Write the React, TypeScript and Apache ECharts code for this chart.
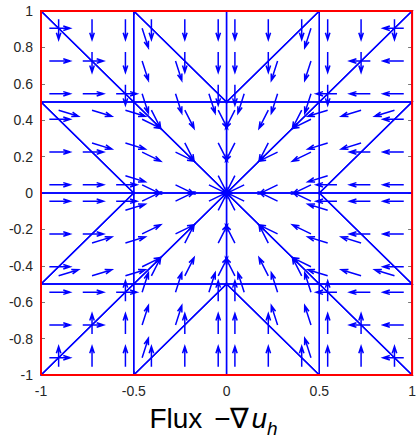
import React, { useEffect, useRef } from "react";
import * as echarts from "echarts";

// Mesh nodes (grid of vertices) and the discrete solution u_h at each node
const nodeX = [-1, -0.5, 0, 0.5, 1];
const nodeY = [-1, -0.5, 0, 0.5, 1];
// rows follow nodeY (bottom -> top), columns follow nodeX
const uhValues = [
  [0, 0, 0, 0, 0],
  [0, -0.177, -0.233, -0.177, 0],
  [0, -0.233, -0.345, -0.233, 0],
  [0, -0.177, -0.233, -0.177, 0],
  [0, 0, 0, 0, 0],
];
// sample offsets along the two legs of each triangle (fraction of leg)
const latticeOffsets = [0.09, 0.45, 0.81];
const arrowLength = 0.112; // quiver arrows drawn with normalised length
const xTicks = [-1, -0.5, 0, 0.5, 1];
const yTicks = [-1, -0.8, -0.6, -0.4, -0.2, 0, 0.2, 0.4, 0.6, 0.8, 1];
const boundary = [
  [-1, -1],
  [1, -1],
  [1, 1],
  [-1, 1],
  [-1, -1],
];

type Pt = [number, number];
type Node = { p: Pt; u: number };

function buildTriangles() {
  const tris: { R: Node; A: Node; B: Node }[] = [];
  const node = (i: number, j: number): Node => ({ p: [nodeX[i], nodeY[j]], u: uhValues[j][i] });
  for (let i = 0; i < nodeX.length - 1; i++) {
    for (let j = 0; j < nodeY.length - 1; j++) {
      const corners = [node(i, j), node(i + 1, j), node(i + 1, j + 1), node(i, j + 1)];
      let oi = 0;
      let best = -1;
      corners.forEach((c, k) => {
        const d = c.p[0] * c.p[0] + c.p[1] * c.p[1];
        if (d > best + 1e-9) {
          best = d;
          oi = k;
        }
      });
      const O = corners[oi];
      const I = corners[(oi + 2) % 4];
      const P = corners[(oi + 1) % 4];
      const Q = corners[(oi + 3) % 4];
      tris.push({ R: P, A: O, B: I });
      tris.push({ R: Q, A: O, B: I });
    }
  }
  return tris;
}

function App() {
  const ref = useRef<HTMLDivElement>(null);
  useEffect(() => {
    if (!ref.current) return;
    const chart = echarts.init(ref.current, undefined, { renderer: "svg" });
    const tris = buildTriangles();

    const meshLines: { coords: Pt[] }[] = [];
    const arrows: { coords: Pt[] }[] = [];
    const alpha = 0.33;
    const beta = 0.33;
    tris.forEach(({ R, A, B }) => {
      meshLines.push({ coords: [R.p, A.p, B.p, R.p] });
      const e1: Pt = [A.p[0] - R.p[0], A.p[1] - R.p[1]];
      const e2: Pt = [B.p[0] - R.p[0], B.p[1] - R.p[1]];
      const d1 = A.u - R.u;
      const d2 = B.u - R.u;
      const det = e1[0] * e2[1] - e1[1] * e2[0];
      const gx = (d1 * e2[1] - d2 * e1[1]) / det;
      const gy = (e1[0] * d2 - e2[0] * d1) / det;
      const fx = -gx;
      const fy = -gy;
      const mag = Math.hypot(fx, fy);
      if (mag < 1e-12) return;
      const u = (fx / mag) * arrowLength;
      const v = (fy / mag) * arrowLength;
      latticeOffsets.forEach((s) => {
        latticeOffsets.forEach((t) => {
          if (s + t > 0.9 + 1e-9) return;
          const x = R.p[0] + s * e1[0] + t * e2[0];
          const y = R.p[1] + s * e1[1] + t * e2[1];
          const tip: Pt = [x + u, y + v];
          const w1: Pt = [tip[0] - alpha * (u + beta * v), tip[1] - alpha * (v - beta * u)];
          const w2: Pt = [tip[0] - alpha * (u - beta * v), tip[1] - alpha * (v + beta * u)];
          arrows.push({ coords: [[x, y], tip, w1, tip, w2] });
        });
      });
    });

    const font = "Liberation Sans, Arial, Helvetica, sans-serif";
    const tickStyle = { show: true, inside: true, length: 4, lineStyle: { color: "#777", width: 1 } };
    const hiddenLine = { show: false, onZero: false };

    chart.setOption({
      animation: false,
      grid: { left: 41, top: 11, width: 375, height: 375 },
      xAxis: [
        {
          type: "value",
          min: -1,
          max: 1,
          interval: 0.5,
          position: "bottom",
          axisLine: hiddenLine,
          axisTick: tickStyle,
          splitLine: { show: false },
          axisLabel: {
            margin: 9,
            fontSize: 14,
            fontFamily: font,
            color: "#262626",
            formatter: (val: number) => (xTicks.includes(val) ? String(val) : ""),
          },
          name: "{t|Flux }{m|\u2212\u2207}{i|u}{s|h}",
          nameLocation: "middle",
          nameGap: 29,
          nameTextStyle: {
            fontFamily: font,
            fontSize: 28,
            color: "#000",
            padding: [0, 26, 0, 0],
            rich: {
              t: { fontFamily: font, fontSize: 28, color: "#000", lineHeight: 32, verticalAlign: "top" },
              m: { fontFamily: font, fontSize: 28, color: "#000", lineHeight: 32, verticalAlign: "top", padding: [0, 2, 0, 4] },
              i: { fontFamily: font, fontSize: 28, color: "#000", fontStyle: "italic", lineHeight: 32, verticalAlign: "top" },
              s: {
                fontFamily: font,
                fontSize: 19,
                color: "#000",
                fontStyle: "italic",
                lineHeight: 19,
                verticalAlign: "top",
                padding: [15, 0, 0, 0],
              },
            },
          },
        },
        {
          type: "value",
          min: -1,
          max: 1,
          interval: 0.5,
          position: "top",
          axisLine: hiddenLine,
          axisTick: tickStyle,
          axisLabel: { show: false },
          splitLine: { show: false },
        },
      ],
      yAxis: [
        {
          type: "value",
          min: -1,
          max: 1,
          interval: 0.2,
          position: "left",
          axisLine: hiddenLine,
          axisTick: tickStyle,
          splitLine: { show: false },
          axisLabel: {
            margin: 8,
            fontSize: 14,
            fontFamily: font,
            color: "#262626",
            formatter: (val: number) => {
              const m = yTicks.find((t) => Math.abs(t - val) < 1e-9);
              return m === undefined ? "" : String(m);
            },
          },
        },
        {
          type: "value",
          min: -1,
          max: 1,
          interval: 0.2,
          position: "right",
          axisLine: hiddenLine,
          axisTick: tickStyle,
          axisLabel: { show: false },
          splitLine: { show: false },
        },
      ],
      series: [
        {
          type: "lines",
          coordinateSystem: "cartesian2d",
          polyline: true,
          silent: true,
          z: 2,
          lineStyle: { color: "#0000ff", width: 1.4, opacity: 1 },
          data: meshLines,
        },
        {
          type: "lines",
          coordinateSystem: "cartesian2d",
          polyline: true,
          silent: true,
          z: 3,
          lineStyle: { color: "#0000ff", width: 1.5, opacity: 1 },
          data: arrows,
        },
        {
          type: "lines",
          coordinateSystem: "cartesian2d",
          polyline: true,
          silent: true,
          z: 4,
          lineStyle: { color: "#ff0000", width: 2, opacity: 1 },
          data: [{ coords: boundary }],
        },
      ],
    });
    return () => chart.dispose();
  }, []);
  return <div ref={ref} style={{ position: "absolute", left: 0, top: 0, width: 419, height: 443 }} />;
}

export default App;
